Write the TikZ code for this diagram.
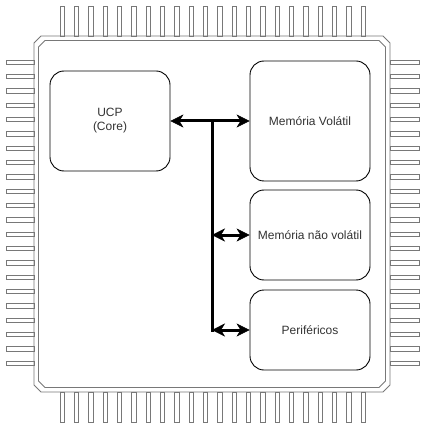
\documentclass[tikz,border=0pt]{standalone}
\usepackage{fontspec}
\setmainfont{Liberation Sans}
\usetikzlibrary{arrows.meta}
\definecolor{pin_gray}{RGB}{120,120,120}
\definecolor{text_gray}{RGB}{50,50,50}

\begin{document}
\begin{tikzpicture}[x=1pt,y=-1pt,semithick,>={Stealth[length=13pt,width=13pt,inset=4pt,line width=0.4pt]}]
    \tikzstyle{pin}=[draw=pin_gray, fill=white, line width=0.8pt]
    \tikzstyle{body}=[draw=pin_gray, line width=0.8pt]
    \tikzstyle{block}=[draw=black, rounded corners=14pt, minimum width=120pt, text=text_gray, font=\fontsize{12}{14}\selectfont, align=center, line width=0.9pt]
    \tikzstyle{bus}=[line width=3pt]

    \useasboundingbox (0,0) rectangle (428,430);

    % pins
    \foreach \i in {0,...,21} {
      \pgfmathsetmacro{\p}{60+\i*14.33}
      \draw[pin] (\p,6) rectangle ++(4.5,30);
      \draw[pin] (\p,392) rectangle ++(4.5,30);
      \draw[pin] (6,\p) rectangle ++(28,4.5);
      \draw[pin] (390,\p) rectangle ++(29,4.5);
    }

    % package outline
    \draw[body] (41,36) -- (383,36) -- (390,43) -- (390,385) -- (383,392) -- (41,392) -- (34,385) -- (34,43) -- cycle;
    \draw[body] (45,40.5) -- (379,40.5) -- (385.5,47) -- (385.5,381) -- (379,387.5) -- (45,387.5) -- (38.5,381) -- (38.5,47) -- cycle;

    \node[block, minimum height=100pt] (ucp)  at (110,121) {UCP\\(Core)};
    \node[block, minimum height=120pt] (vol)  at (310,121) {Memória Volátil};
    \node[block, minimum height=90pt]  (nvol) at (310,235) {Memória não volátil};
    \node[block, minimum height=80pt]  (peri) at (310,330) {Periféricos};

    \coordinate (j1) at (212,121);
    \coordinate (j2) at (212,235);
    \coordinate (j3) at (212,330);

    \path
     (ucp) edge[bus,<->] (vol)
     (j1) edge[bus,line cap=rect] (j3)
     (j2) edge[bus,<->] (nvol)
     (j3) edge[bus,<->] (peri)
     ;
\end{tikzpicture}
\end{document}
